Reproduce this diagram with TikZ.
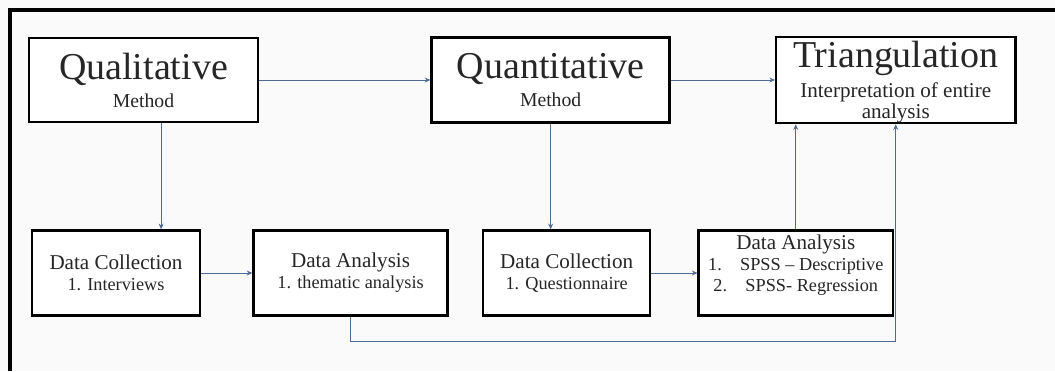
\documentclass[tikz,border=0pt]{standalone}
\usepackage{fontspec}
\setmainfont{Liberation Serif}
\usetikzlibrary{arrows.meta, positioning}
\definecolor{flowBlue}{RGB}{76,108,148}
\definecolor{paper}{RGB}{250,250,250}
\tikzset{
    >=Stealth,
    % Boxes
    methodBox/.style={rectangle, draw=black, line width=1.8pt, fill=white,
                      align=center, inner sep=1pt, text=black!85,
                      font=\fontsize{14}{20}\selectfont},
    stageBox/.style={methodBox, minimum height=2.125cm,
                     font=\fontsize{13}{15}\selectfont},
    % Flow
    flow/.style={-{Stealth[length=4pt,width=3.5pt]}, line width=0.7pt, flowBlue}
}
\newcommand{\bigword}[1]{{\fontsize{27}{20}\selectfont #1}}
\newcommand{\headword}[1]{{\fontsize{15}{15}\selectfont #1}}

\begin{document}
\begin{tikzpicture}[x=0.025cm, y=-0.025cm]
\useasboundingbox (0,0) rectangle (1055,371);
\fill[paper] (0,0) rectangle (1055,371);
\draw[line width=3.5pt] (10,371) -- (10,10) -- (1055,10);

% top row
\node[methodBox, minimum width=5.725cm, minimum height=2.1cm] (qual) at (143.5,80)
    {\bigword{Qualitative}\\ Method};
\node[methodBox, minimum width=5.95cm, minimum height=2.125cm, right=4.275cm of qual] (quant)
    {\bigword{Quantitative}\\ Method};
\node[methodBox, minimum width=5.975cm, minimum height=2.15cm, right=2.6cm of quant,
      inner ysep=0pt, text depth=-2pt, font=\fontsize{15}{15}\selectfont] (tri)
    {\bigword{Triangulation}\\[4pt] Interpretation of entire\\ analysis};

% bottom row
\node[stageBox, minimum width=4.2cm] (dcQual) at (116,273)
    {\headword{Data Collection}\\ 1. Interviews};
\node[stageBox, minimum width=4.85cm, right=1.275cm of dcQual] (daQual)
    {\headword{Data Analysis}\\ 1. thematic analysis};
\node[stageBox, minimum width=4.175cm, right=0.825cm of daQual] (dcQuant)
    {\headword{Data Collection}\\ 1. Questionnaire};
\node[stageBox, minimum width=4.85cm, right=1.15cm of dcQuant, text depth=14pt] (daQuant)
    {\headword{Data Analysis}\\ 1.\quad SPSS -- Descriptive\\ 2.\quad SPSS- Regression};

% connectors
\draw[flow] (qual.east) -- (quant.west);
\draw[flow] (quant.east) -- (tri.west);
\draw[flow] ([xshift=0.44cm]qual.south) -- ([xshift=0.44cm]qual.south |- dcQual.north);
\draw[flow] (quant.south) -- (quant.south |- dcQuant.north);
\draw[flow] (dcQual) -- (daQual);
\draw[flow] (dcQuant) -- (daQuant);
\draw[flow] (daQuant.north) -- (daQuant.north |- tri.south);
\draw[flow] (daQual.south) -- ++(0,25) -| (tri.south);

\end{tikzpicture}
\end{document}
